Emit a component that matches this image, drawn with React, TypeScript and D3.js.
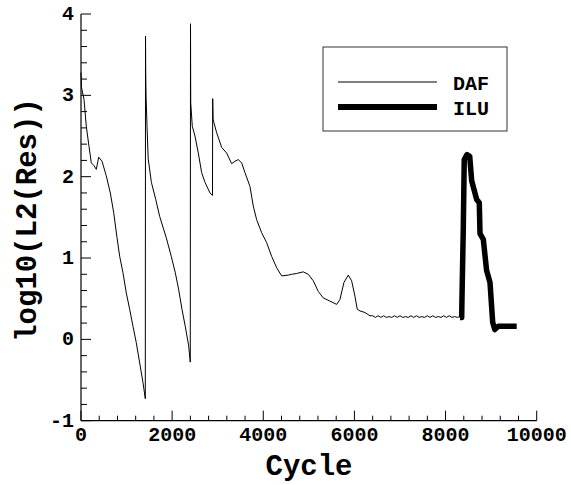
import React from "react";
import { scaleLinear, line, range } from "d3";

// DAF residual history [cycle, log10(L2(Res))]
const dafPoints: [number, number][] = [
  [0, 3.28], [10, 3.1], [66, 2.95], [116, 2.62], [176, 2.37], [226, 2.17],
  [279, 2.14], [336, 2.09], [388, 2.24], [461, 2.19], [555, 2.01], [643, 1.8],
  [717, 1.56], [790, 1.25], [849, 1.02], [921, 0.82], [994, 0.57], [1068, 0.37],
  [1141, 0.16], [1213, -0.04], [1288, -0.29], [1360, -0.53], [1411, -0.73],
  [1416, 3.73], [1420, 3.29], [1428, 2.99], [1450, 2.6], [1475, 2.22],
  [1545, 1.93], [1640, 1.72], [1727, 1.51], [1871, 1.25], [1981, 1.02],
  [2069, 0.82], [2144, 0.61], [2216, 0.37], [2288, 0.16], [2363, -0.08],
  [2398, -0.28], [2403, 3.88], [2408, 2.91], [2442, 2.62], [2501, 2.5],
  [2574, 2.29], [2648, 2.05], [2721, 1.93], [2830, 1.8], [2885, 1.77],
  [2890, 2.96], [2900, 2.7], [2977, 2.54], [3087, 2.36], [3197, 2.29],
  [3306, 2.16], [3379, 2.19], [3451, 2.21], [3526, 2.17], [3598, 2.05],
  [3708, 1.88], [3780, 1.64], [3855, 1.47], [3965, 1.31], [4074, 1.19],
  [4184, 1.02], [4294, 0.88], [4403, 0.78], [4548, 0.79], [4623, 0.8],
  [4732, 0.81], [4877, 0.83], [4987, 0.8], [5097, 0.72], [5206, 0.59],
  [5316, 0.51], [5463, 0.47], [5610, 0.43], [5682, 0.49], [5770, 0.7],
  [5865, 0.79], [5939, 0.72], [6012, 0.53], [6062, 0.37], [6121, 0.35],
  [6231, 0.33], [6341, 0.29], [6400, 0.29], [6460, 0.27], [6520, 0.29],
  [6580, 0.27], [6640, 0.29], [6700, 0.27], [6760, 0.28], [6820, 0.27],
  [6880, 0.29], [6940, 0.27], [7000, 0.29], [7060, 0.27], [7120, 0.28],
  [7180, 0.27], [7240, 0.29], [7300, 0.27], [7360, 0.29], [7420, 0.27],
  [7480, 0.28], [7540, 0.27], [7600, 0.29], [7660, 0.27], [7720, 0.29],
  [7780, 0.27], [7840, 0.28], [7900, 0.27], [7960, 0.29], [8020, 0.27],
  [8080, 0.29], [8140, 0.27], [8200, 0.28], [8260, 0.27], [8320, 0.28]
];

// ILU residual history
const iluPoints: [number, number][] = [
  [8317, 0.27], [8354, 0.27], [8360, 0.49], [8390, 1.39], [8410, 2.21],
  [8470, 2.27], [8530, 2.25], [8573, 1.95], [8683, 1.72], [8740, 1.68],
  [8756, 1.3], [8828, 1.23], [8900, 0.85], [8975, 0.7], [9034, 0.21],
  [9080, 0.12], [9157, 0.16], [9561, 0.16]
];

const xTicks = [0, 2000, 4000, 6000, 8000, 10000];
const xTickLabels = ["0", "2000", "4000", "6000", "8000", "10000"];
const yTicks = [-1, 0, 1, 2, 3, 4];
const yTickLabels = ["-1", "0", "1", "2", "3", "4"];
const seriesNames = ["DAF", "ILU"];

const mono = "'Liberation Mono', 'Courier New', monospace";

export default function App() {
  const width = 571,
    height = 485;

  const xScale = scaleLinear().domain([0, 10000]).range([81, 536.7]);
  const yScale = scaleLinear().domain([-1, 4]).range([420.7, 14]);

  const lineGen = line<[number, number]>()
    .x(d => xScale(d[0]))
    .y(d => yScale(d[1]));

  const xMinor = range(0, 10001, 400).filter(v => v % 2000 !== 0);
  const yMinor = range(-10, 41, 2).map(v => v / 10).filter(v => !Number.isInteger(v));

  const x0 = xScale(0);
  const y0 = yScale(-1);

  return (
    <svg
      width={width}
      height={height}
      style={{ position: "absolute", left: 0, top: 0, background: "#fff" }}
    >
      {/* axes */}
      <line x1={x0} x2={xScale(10000)} y1={y0} y2={y0} stroke="#000" strokeWidth={1.2} />
      <line x1={x0} x2={x0} y1={y0} y2={yScale(4)} stroke="#000" strokeWidth={1.2} />

      {xTicks.map((t, i) => (
        <g key={"xt" + t}>
          <line x1={xScale(t)} x2={xScale(t)} y1={y0} y2={y0 - 10} stroke="#000" />
          <text
            x={xScale(t)}
            y={y0 + 20}
            textAnchor="middle"
            style={{ fontFamily: mono, fontSize: 20, fontWeight: "bold" }}
          >
            {xTickLabels[i]}
          </text>
        </g>
      ))}
      {xMinor.map(t => (
        <line key={"xm" + t} x1={xScale(t)} x2={xScale(t)} y1={y0} y2={y0 - 5} stroke="#000" />
      ))}

      {yTicks.map((t, i) => (
        <g key={"yt" + t}>
          <line x1={x0} x2={x0 + 10} y1={yScale(t)} y2={yScale(t)} stroke="#000" />
          <text
            x={x0 - 7}
            y={yScale(t) + 6}
            textAnchor="end"
            style={{ fontFamily: mono, fontSize: 20, fontWeight: "bold" }}
          >
            {yTickLabels[i]}
          </text>
        </g>
      ))}
      {yMinor.map(t => (
        <line key={"ym" + t} x1={x0} x2={x0 + 6} y1={yScale(t)} y2={yScale(t)} stroke="#000" />
      ))}

      {/* axis titles */}
      <text
        x={309}
        y={475}
        textAnchor="middle"
        style={{ fontFamily: mono, fontSize: 29, fontWeight: "bold" }}
      >
        Cycle
      </text>
      <text
        transform="translate(36, 220) rotate(-90)"
        textAnchor="middle"
        style={{ fontFamily: mono, fontSize: 29, fontWeight: "bold" }}
      >
        log10(L2(Res))
      </text>

      {/* series */}
      <path d={lineGen(dafPoints) || ""} fill="none" stroke="#000" strokeWidth={1} />
      <path
        d={lineGen(iluPoints) || ""}
        fill="none"
        stroke="#000"
        strokeWidth={5.5}
        strokeLinejoin="round"
      />

      {/* legend */}
      <rect x={323} y={47} width={184} height={84} fill="#fff" stroke="#333" strokeWidth={1} />
      <line x1={338} x2={437} y1={82} y2={82} stroke="#000" strokeWidth={1} />
      <line x1={338} x2={437} y1={107} y2={107} stroke="#000" strokeWidth={6} />
      <text x={453} y={90} style={{ fontFamily: mono, fontSize: 20, fontWeight: "bold" }}>
        {seriesNames[0]}
      </text>
      <text x={453} y={115} style={{ fontFamily: mono, fontSize: 20, fontWeight: "bold" }}>
        {seriesNames[1]}
      </text>
    </svg>
  );
}
